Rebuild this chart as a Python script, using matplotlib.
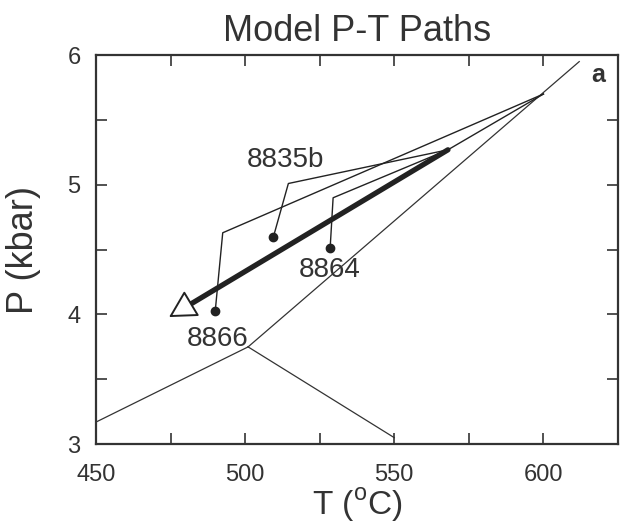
import matplotlib
matplotlib.use('Agg')
import matplotlib.pyplot as plt
from matplotlib.ticker import MultipleLocator

plt.rcParams['font.family'] = ['Liberation Sans', 'DejaVu Sans']

# aluminosilicate reaction lines (T in C, P in kbar), meeting at the triple point
ky_and_T = [450, 501]
ky_and_P = [3.17, 3.75]
and_sil_T = [501, 550]
and_sil_P = [3.75, 3.05]
ky_sil_T = [501, 612]
ky_sil_P = [3.75, 5.95]

# model P-T paths for each sample: garnet core (dot) -> bend -> peak
path_8866_T = [490, 492.5, 600]
path_8866_P = [4.03, 4.63, 5.70]
path_8835b_T = [509.5, 514.5, 568]
path_8835b_P = [4.60, 5.01, 5.27]
path_8864_T = [528.5, 529.5, 568]
path_8864_P = [4.51, 4.90, 5.27]
link_T = [568, 600]
link_P = [5.27, 5.70]

# thick retrograde path ending in an arrow
retro_T = [568, 474.5]
retro_P = [5.27, 3.98]

labels = ['8835b', '8864', '8866']
label_T = [513.5, 528.5, 490.8]
label_P = [5.19, 4.34, 3.81]


def draw_paths(ax):
    for T, P in [(ky_and_T, ky_and_P), (and_sil_T, and_sil_P), (ky_sil_T, ky_sil_P)]:
        ax.plot(T, P, color='#333333', lw=0.9)
    for T, P in [(path_8866_T, path_8866_P), (path_8835b_T, path_8835b_P),
                 (path_8864_T, path_8864_P)]:
        ax.plot(T, P, color='#222222', lw=1.0)
        ax.plot(T[0], P[0], 'o', color='#222222', ms=6)
    ax.plot(link_T, link_P, color='#222222', lw=1.0)
    # thick shaft stops short of the tip so the hollow head stays clean
    tip = (retro_T[1], retro_P[1])
    start = (retro_T[0], retro_P[0])
    ax.annotate('', xy=tip, xytext=start,
                arrowprops=dict(arrowstyle='-', color='#222222', lw=3.8,
                                shrinkA=0, shrinkB=10),
                zorder=3)
    ax.annotate('', xy=tip, xytext=start,
                arrowprops=dict(arrowstyle='-|>,head_length=1.0,head_width=0.55',
                                mutation_scale=17, fc='white', ec='#222222', lw=1.4,
                                shrinkA=0, shrinkB=0),
                zorder=4)


fig = plt.figure(figsize=(6.23, 5.25), dpi=100)
ax = fig.add_axes([0.154, 0.154, 0.838, 0.741])
draw_paths(ax)

for lab, t, p in zip(labels, label_T, label_P):
    ax.text(t, p, lab, fontsize=20, ha='center', va='center', color='#333333')
ax.text(0.975, 0.98, 'a', transform=ax.transAxes, fontsize=18, fontweight='bold',
        ha='right', va='top', color='#333333')

ax.set_xlim(450, 625)
ax.set_ylim(3, 6)
ax.xaxis.set_major_locator(MultipleLocator(50))
ax.xaxis.set_minor_locator(MultipleLocator(25))
ax.yaxis.set_major_locator(MultipleLocator(1))
ax.yaxis.set_minor_locator(MultipleLocator(0.5))
ax.tick_params(which='both', direction='in', top=True, right=True, length=8, width=1.2,
               labelsize=17, colors='#333333')
ax.tick_params(axis='x', pad=14)
ax.tick_params(axis='y', pad=11)
for s in ax.spines.values():
    s.set_linewidth(1.6)
    s.set_color('#333333')

ax.set_title('Model P-T Paths', fontsize=26, color='#333333', pad=10)
ax.set_xlabel('T ($^\\mathregular{o}$C)', fontsize=24, color='#333333')
ax.xaxis.set_label_coords(0.5, -0.108)
ax.set_ylabel('P (kbar)', fontsize=26, color='#333333')
ax.yaxis.set_label_coords(-0.105, 0.5)

fig.savefig('out.png', dpi=100)
